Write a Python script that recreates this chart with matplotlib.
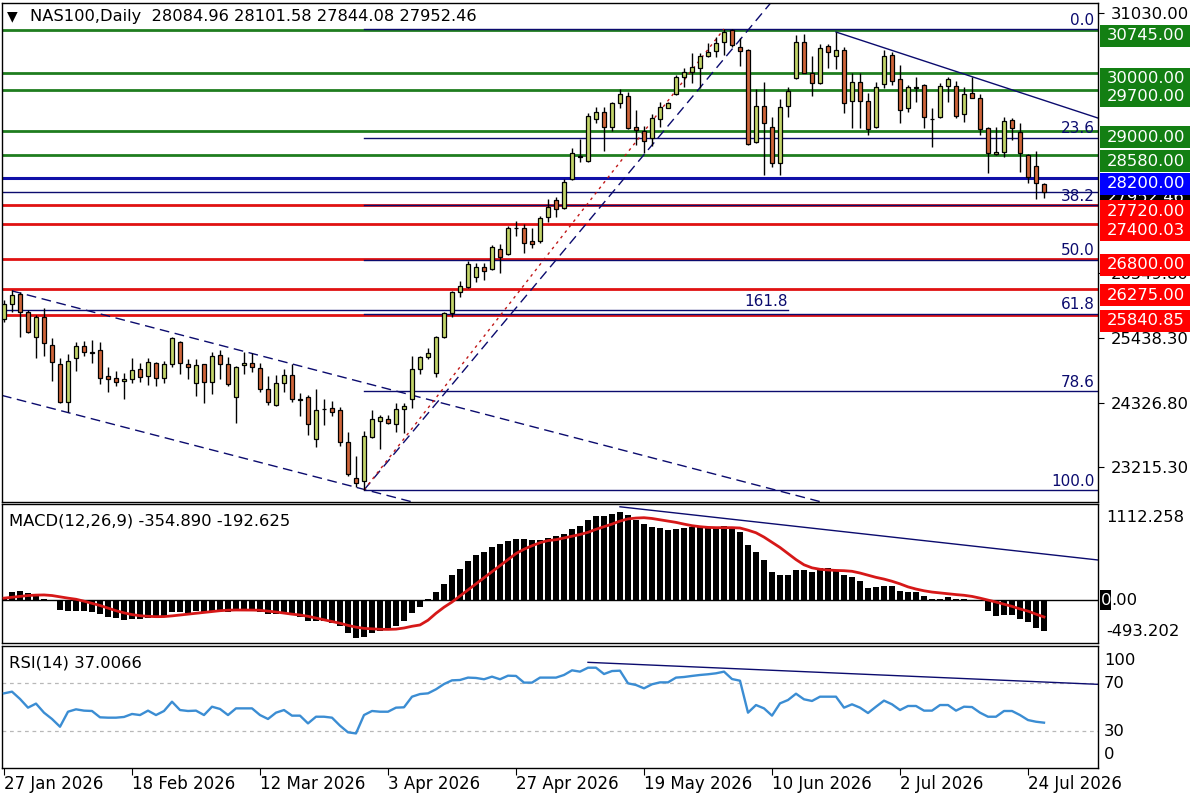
import matplotlib

matplotlib.use("Agg")
import matplotlib.pyplot as plt
import matplotlib.transforms as mtransforms
from matplotlib.patches import Rectangle
import numpy as np

# ---- daily OHLC, bar 0 = 27 Jan 2026 ----
opens = [25767, 26025, 26197, 25888, 25458, 25802, 25320, 24993, 24340, 25096,
         25303, 25200, 25234, 24787, 24752, 24701, 24735, 24907, 24787, 25010,
         24752, 24993, 25372, 24993, 24666, 24993, 24684, 25148, 24993, 24426,
         24976, 25010, 24925, 24563, 24288, 24666, 24804, 24391, 24426, 23703,
         24219, 24236, 24202, 23652, 23032, 22981, 23738, 24013, 24047, 23961,
         24219, 24391, 24907, 25114, 24838, 25458, 25870, 26232, 26318, 26490,
         26662, 26627, 26971, 26885, 27332, 27332, 27109, 27109, 27521, 27814,
         27676, 28175, 28570, 28484, 29207, 29327, 29069, 29482, 29602, 29069,
         29001, 28880, 29207, 29396, 29637, 29929, 30016, 30084, 30291, 30377,
         30531, 30738, 30445, 30394, 28812, 29430, 29069, 28450, 29430, 29912,
         30531, 29998, 29826, 30462, 30291, 30394, 29517, 29843, 29517, 29069,
         29809, 30308, 29895, 29396, 29757, 29792, 29207, 29241, 29774, 29774,
         29293, 29654, 29568, 29052, 28605, 28640, 29190, 28984, 28588, 28400,
         28084.96]
highs = [26094, 26266, 26232, 25922, 25836, 25956, 25440, 25096, 25165, 25372,
         25389, 25406, 25372, 24942, 24873, 24838, 25096, 25010, 25096, 25028,
         25045, 25458, 25389, 25079, 25079, 25000, 25200, 25234, 25114, 24959,
         25200, 25182, 25010, 24787, 24804, 24907, 24993, 24494, 24460, 24563,
         24391, 24357, 24254, 23824, 23411, 23841, 24202, 24116, 24116, 24322,
         24322, 25131, 25131, 25268, 25470, 25885, 26250, 26420, 26765, 26730,
         26730, 27040, 27057, 27367, 27453, 27401, 27332, 27538, 27831, 27866,
         28175, 28708, 28863, 29310, 29413, 29413, 29500, 29723, 29671, 29362,
         29087, 29293, 29500, 29500, 29964, 30084, 30342, 30342, 30514, 30618,
         30755, 30755, 30600, 30411, 29723, 29843, 29241, 29551, 29757, 30652,
         30670, 30291, 30497, 30497, 30703, 30445, 29998, 29998, 29654, 29843,
         30394, 30360, 30136, 29792, 29929, 29809, 29396, 29826, 29929, 29861,
         29757, 29929, 29637, 29069, 29069, 29241, 29224, 29138, 28600, 28657,
         28101.58]
lows = [25716, 25888, 25458, 25526, 25096, 25131, 24701, 24322, 24168, 24873,
        25131, 25010, 24649, 24512, 24615, 24391, 24666, 24684, 24632, 24615,
        24666, 24942, 24821, 24735, 24443, 24322, 24477, 24735, 24615, 23978,
        24821, 24856, 24512, 24288, 24270, 24512, 24340, 24099, 23772, 23566,
        23944, 24099, 23583, 23067, 22878, 22826, 23720, 23531, 23961, 23824,
        23806, 24236, 24821, 25079, 24770, 25440, 25802, 26145, 26300, 26404,
        26438, 26610, 26558, 26868, 27195, 26902, 26988, 27074, 27435, 27521,
        27659, 28158, 28467, 28467, 29138, 28657, 29001, 29396, 29035, 28760,
        28622, 28743, 29069, 29390, 29620, 29757, 29826, 29740, 30274, 30274,
        30308, 30445, 30118, 28760, 28794, 28244, 28381, 28244, 29241, 29900,
        29990, 29602, 29809, 30084, 30067, 29310, 29052, 29052, 28932, 29060,
        29740, 29792, 29138, 29327, 29500, 29052, 28725, 29224, 29500, 29224,
        29155, 29560, 28932, 28278, 28588, 28553, 28846, 28296, 28106, 27831,
        27844.08]
closes = [26025, 26180, 25888, 25544, 25802, 25354, 25028, 24340, 25045, 25303,
          25200, 25190, 24752, 24735, 24684, 24735, 24890, 24770, 25028, 24752,
          24993, 25440, 25010, 24942, 24976, 24684, 25131, 24993, 24649, 24942,
          25010, 24942, 24563, 24340, 24666, 24804, 24391, 24380, 23961, 24202,
          24225, 24168, 23652, 23101, 22946, 23755, 24047, 24082, 23978, 24219,
          24270, 24907, 25114, 25182, 25458, 25870, 26232, 26335, 26713, 26662,
          26593, 27006, 26834, 27332, 27340, 27074, 27057, 27504, 27693, 27659,
          28123, 28622, 28560, 29258, 29327, 29069, 29482, 29637, 29052, 29018,
          28829, 29224, 29413, 29482, 29929, 30016, 30101, 30291, 30360, 30514,
          30703, 30480, 30377, 28777, 29430, 29138, 28450, 29413, 29689, 30531,
          29998, 29826, 30428, 30360, 30394, 29482, 29843, 29517, 29035, 29757,
          30291, 29861, 29362, 29757, 29745, 29241, 29200, 29774, 29895, 29258,
          29637, 29568, 29035, 28622, 28640, 29172, 29052, 28622, 28210, 28106,
          27952.46]

# ---- MACD(12,26,9): main (histogram) and signal ----
macd_main = [42, 92, 107, 84, 77, 20, -5, -112, -128, -128,
             -123, -139, -162, -190, -205, -228, -217, -217, -205, -178,
             -182, -139, -139, -143, -123, -143, -120, -120, -131, -120,
             -112, -112, -131, -158, -158, -147, -166, -190, -236, -244,
             -244, -263, -294, -382, -436, -420, -382, -351, -332, -294,
             -244, -147, -74, 15, 96, 185, 289, 366, 451, 520,
             558, 616, 655, 686, 705, 705, 693, 701, 724, 742,
             765, 819, 858, 927, 974, 974, 997, 1016, 985, 927,
             881, 843, 831, 812, 823, 831, 843, 843, 831, 843,
             858, 843, 793, 639, 562, 466, 331, 292, 292, 350,
             350, 331, 369, 369, 338, 292, 265, 223, 138, 150,
             165, 165, 111, 100, 100, 50, 11, 19, 38, 11,
             19, 4, -4, -120, -177, -170, -170, -216, -254, -323,
             -354.890]
macd_signal = [25, 35, 45, 55, 60, 62, 55, 40, 25, 12,
               -10, -35, -60, -90, -120, -145, -165, -178, -185, -189,
               -188, -180, -170, -160, -150, -140, -130, -120, -114, -112,
               -112, -113, -115, -125, -135, -148, -160, -170, -185, -205,
               -225, -245, -265, -290, -310, -324, -330, -335, -336, -333,
               -320, -300, -285, -230, -150, -80, -20, 50, 120, 190,
               260, 330, 400, 470, 540, 590, 630, 665, 690, 700,
               720, 740, 760, 785, 820, 850, 880, 915, 940, 950,
               954, 945, 930, 915, 900, 880, 862, 850, 842, 839,
               839, 839, 835, 810, 780, 730, 670, 610, 540, 470,
               410, 375, 358, 350, 345, 342, 335, 315, 290, 265,
               245, 220, 190, 155, 130, 110, 95, 85, 75, 66,
               58, 45, 25, 3, -20, -45, -70, -100, -125, -160,
               -192.625]

# ---- RSI(14) ----
rsi = [61.6, 63.0, 56.9, 49.6, 53.0, 45.4, 40.1, 33.6, 46.2, 48.2,
       47.1, 46.8, 41.5, 41.2, 41.2, 41.8, 44.3, 43.4, 47.1, 43.4,
       46.8, 54.6, 47.6, 46.8, 47.1, 43.4, 50.4, 48.5, 43.4, 49.0,
       49.0, 49.0, 43.4, 40.1, 45.4, 47.6, 42.9, 42.9, 36.4, 42.0,
       42.0, 41.2, 34.5, 28.9, 28.0, 43.4, 46.8, 46.2, 46.2, 49.6,
       49.9, 58.8, 61.0, 61.6, 65.0, 69.4, 72.5, 72.8, 74.8, 74.5,
       73.4, 75.6, 73.4, 76.4, 76.2, 70.6, 70.6, 74.8, 74.8, 74.8,
       77.0, 80.9, 79.8, 83.1, 83.1, 77.8, 80.3, 80.6, 70.0, 68.6,
       65.8, 69.2, 70.8, 70.8, 74.8, 75.3, 76.2, 77.0, 77.6, 78.4,
       79.8, 73.6, 72.2, 45.4, 51.8, 49.0, 42.9, 53.2, 56.0, 61.3,
       56.6, 55.2, 58.8, 58.8, 58.8, 49.6, 52.4, 49.6, 45.1, 50.4,
       55.5, 52.4, 47.6, 51.0, 51.0, 47.1, 47.1, 51.8, 51.8, 47.1,
       50.4, 50.1, 45.4, 42.0, 42.0, 46.8, 46.8, 43.4, 39.2, 37.8,
       37.0066]

tick_bars = [0, 16, 32, 48, 64, 80, 96, 112, 128]
tick_dates = ["27 Jan 2026", "18 Feb 2026", "12 Mar 2026", "3 Apr 2026", "27 Apr 2026",
              "19 May 2026", "10 Jun 2026", "2 Jul 2026", "24 Jul 2026"]

resistance_levels = [30745.00, 30000.00, 29700.00, 29000.00, 28580.00]
pivot_level = 28200.00
support_levels = [27720.00, 27400.03, 26800.00, 26275.00, 25840.85]
last_price = 27952.46

fib_start_bar = 45
fib_names = ["0.0", "23.6", "38.2", "50.0", "61.8", "78.6", "100.0"]
fib_levels = [30755, 28884, 27726, 26790, 25855, 24523, 22826]
ext_level = 25915  # 161.8 expansion
ext_end_bar = 98

price_ticks = [31030.00, 26549.80, 25438.30, 24326.80, 23215.30]

# trend lines as (bar, value) anchor pairs
channel_upper = [(1, 26250), (69, 23810)]
channel_lower = [(-0.25, 24452), (45, 22836)]
rising_line = [(45, 22826), (94, 30900)]
fib_diagonal = [(45, 22826), (90, 30755)]
falling_line = [(104, 30703), (130, 29528)]
macd_falling = [(77, 1080), (130, 535)]
rsi_falling = [(73, 87.6), (130, 71.1)]

W, H = 1200, 800
XL, XR = -0.25, 136.75
NAVY = "#0b0b6e"
GREEN_LINE = "#1f7d1f"
GREEN_BOX = "#137f13"
RED_LINE = "#e01212"
BLUE_LINE = "#1010a8"
BULL = "#c3d56a"
BEAR = "#cf653a"
FS = 11.8

fig = plt.figure(figsize=(12, 8), dpi=100)
fig.patch.set_facecolor("white")


def px_rect(x0, y0, x1, y1):
    return [x0 / W, 1 - y1 / H, (x1 - x0) / W, (y1 - y0) / H]


ax = fig.add_axes(px_rect(2, 3, 1098, 502))
ax2 = fig.add_axes(px_rect(2, 504, 1098, 643))
ax3 = fig.add_axes(px_rect(2, 646, 1098, 768))

for a in (ax, ax2, ax3):
    a.set_xlim(XL, XR)
    for s in a.spines.values():
        s.set_color("black")
        s.set_linewidth(1)

x = np.arange(len(closes))


def ray(axis, pts, **kw):
    (b0, v0), (b1, v1) = pts
    slope = (v1 - v0) / (b1 - b0)
    axis.plot([b0, XR], [v0, v0 + slope * (XR - b0)], **kw)


# ---- main price panel ----
ax.set_ylim(22619, 31202)

for lvl in resistance_levels:
    ax.axhline(lvl, color=GREEN_LINE, lw=2, zorder=1)
for lvl in support_levels:
    ax.axhline(lvl, color=RED_LINE, lw=2, zorder=1)
ax.axhline(pivot_level, color=BLUE_LINE, lw=2.2, zorder=1)
ax.axhline(last_price, color=NAVY, lw=1, zorder=1)

for name, lvl in zip(fib_names, fib_levels):
    ax.plot([fib_start_bar, XR], [lvl, lvl], color=NAVY, lw=1, zorder=1.2)
    ax.annotate(name, xy=(136.3, lvl), xytext=(0, 1), textcoords="offset points",
                ha="right", va="bottom", color=NAVY, fontsize=11)
ax.plot([XL, ext_end_bar], [ext_level, ext_level], color=NAVY, lw=1, zorder=1.2)
ax.annotate("161.8", xy=(ext_end_bar, ext_level), xytext=(0, 1), textcoords="offset points",
            ha="right", va="bottom", color=NAVY, fontsize=11)

dash = (0, (7, 4))
ray(ax, channel_upper, color=NAVY, lw=1, ls=dash, zorder=1.3)
ray(ax, channel_lower, color=NAVY, lw=1, ls=dash, zorder=1.3)
ray(ax, rising_line, color=NAVY, lw=1, ls=dash, zorder=1.3)
ax.plot(*zip(*fib_diagonal), color="#c01818", lw=1, ls=(0, (2, 3)), zorder=1.3)
ray(ax, falling_line, color=NAVY, lw=1, zorder=1.3)

o = np.array(opens)
c = np.array(closes)
ax.vlines(x, lows, highs, color="black", lw=1, zorder=2)
body_col = [BULL if cc >= oo else BEAR for oo, cc in zip(o, c)]
ax.bar(x, np.abs(c - o), bottom=np.minimum(o, c), width=0.62, color=body_col,
       edgecolor="black", linewidth=0.9, zorder=3)

ax.set_xticks([])
ax.yaxis.tick_right()
ax.set_yticks(price_ticks, [f"{v:.2f}" for v in price_ticks])
ax.tick_params(axis="y", length=4, pad=5, labelsize=FS, colors="black")

# price labels on the right scale (MT4 draws them a few px below the line)
trans = mtransforms.blended_transform_factory(ax.transAxes, ax.transData)
ax_h_px = 499
p_per_px = (31202 - 22619) / ax_h_px
bx0 = (1100 - 2) / 1096
bw = 90 / 1096
tx = (1107 - 2) / 1096
shift = 6 * p_per_px
boxes = [(v, GREEN_BOX) for v in resistance_levels] + [(last_price, "black"), (pivot_level, "#0000ff")] \
    + [(v, "#ff0000") for v in support_levels]
for k, (v, col) in enumerate(boxes):
    z = 5 + k * 0.1
    yc = v - shift
    ax.add_patch(Rectangle((bx0, yc - 11 * p_per_px), bw, 22 * p_per_px, transform=trans,
                           facecolor=col, edgecolor="none", clip_on=False, zorder=z))
    ax.text(tx, yc, f"{v:.2f}", transform=trans, color="white", fontsize=FS,
            ha="left", va="center", clip_on=False, zorder=z + 0.05)

# ---- MACD panel ----
ax2.set_ylim(-493.202, 1112.258)
ax2.bar(x, macd_main, width=0.75, color="black", zorder=2)
ax2.axhline(0, color="black", lw=1, zorder=2)
ax2.plot(x, macd_signal, color="#d61818", lw=2, zorder=3)
ray(ax2, macd_falling, color=NAVY, lw=1, zorder=2)
ax2.set_xticks([])
ax2.set_yticks([])
ax2.text(0.006, 0.88, f"MACD(12,26,9) {macd_main[-1]:.3f} {macd_signal[-1]:.3f}",
         transform=ax2.transAxes, fontsize=FS, ha="left", va="center")
ax2.text(1.0073, 1 - 13 / 139, "1112.258", transform=ax2.transAxes, fontsize=FS,
         ha="left", va="center", clip_on=False)
ax2.text(1.0073, 11 / 139, "-493.202", transform=ax2.transAxes, fontsize=FS,
         ha="left", va="center", clip_on=False)
t2 = mtransforms.blended_transform_factory(ax2.transAxes, ax2.transData)
ax2.add_patch(Rectangle(((1100 - 2) / 1096, -115), 11 / 1096, 230, transform=t2,
                        facecolor="black", edgecolor="none", clip_on=False))
ax2.text((1101 - 2) / 1096, 0, "0", transform=t2, color="white", fontsize=FS,
         ha="left", va="center", clip_on=False)
ax2.text((1111.5 - 2) / 1096, 0, ".00", transform=t2, color="black", fontsize=FS,
         ha="left", va="center", clip_on=False)

# ---- RSI panel ----
ax3.set_ylim(-1, 101.3)
for lvl in (70, 30):
    ax3.axhline(lvl, color="#b8b8b8", lw=0.9, ls=(0, (3, 3)), zorder=1)
ax3.plot(x, rsi, color="#3b8dd3", lw=1.7, zorder=3)
ray(ax3, rsi_falling, color=NAVY, lw=1, zorder=2)
ax3.text(0.006, 0.86, f"RSI(14) {rsi[-1]:.4f}", transform=ax3.transAxes,
         fontsize=FS, ha="left", va="center")
t3 = mtransforms.blended_transform_factory(ax3.transAxes, ax3.transData)
for lvl in (70, 30):
    ax3.text(1.0055, lvl, str(lvl), transform=t3, fontsize=FS, ha="left", va="center", clip_on=False)
ax3.text(1.0055, 0.885, "100", transform=ax3.transAxes, fontsize=FS, ha="left", va="center", clip_on=False)
ax3.text(1.0055, 0.107, "0", transform=ax3.transAxes, fontsize=FS, ha="left", va="center", clip_on=False)
ax3.set_yticks([])
ax3.set_xticks(tick_bars, tick_dates)
ax3.tick_params(axis="x", length=5, pad=0, labelsize=12)
for lab in ax3.get_xticklabels():
    lab.set_ha("left")

# header
fig.text(7 / W, 1 - 16 / H, "\u25bc", fontsize=10, ha="left", va="center")
fig.text(30 / W, 1 - 16 / H, "NAS100,Daily  28084.96 28101.58 27844.08 27952.46",
         fontsize=11.7, ha="left", va="center")

fig.savefig("out.png", dpi=100, facecolor="white")
